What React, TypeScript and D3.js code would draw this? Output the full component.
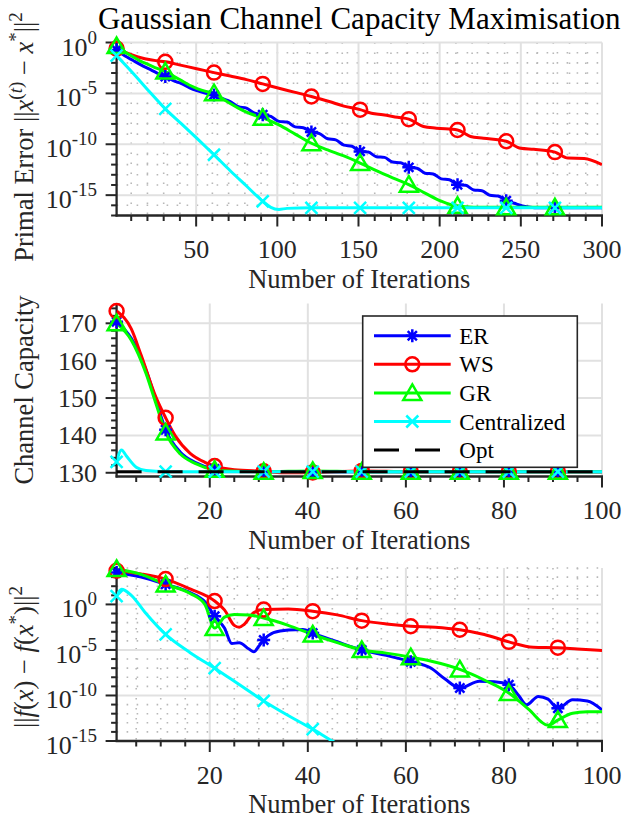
import React from 'react';
import * as d3 from 'd3';

type Pt = [number, number];
type MarkerKind = 'asterisk' | 'circle' | 'triangle' | 'cross';

// panel 1: log10 of primal error ||x(t) - x*||^2, per iteration
const primalER: Pt[] = [
  [1, -0.74], [6, -1.3], [11, -1.75], [16, -2.2], [21, -2.6], [26, -3.0], [31, -3.35], [36, -3.75],
  [41, -4.05], [46, -4.45], [51, -4.75], [56, -5.0], [61, -5.15], [66, -5.5], [71, -5.8], [76, -6.3],
  [81, -6.45], [86, -6.95], [91, -7.1], [96, -7.27], [101, -7.75], [106, -7.82], [111, -8.29],
  [116, -8.37], [121, -8.8], [126, -8.95], [131, -9.46], [136, -9.57], [141, -10.08], [146, -10.19],
  [151, -10.7], [156, -10.76], [161, -11.22], [166, -11.29], [171, -11.75], [176, -11.81],
  [181, -12.27], [186, -12.35], [191, -12.84], [196, -12.92], [201, -13.4], [206, -13.49],
  [211, -13.97], [216, -14.03], [221, -14.49], [226, -14.56], [231, -15.02], [236, -15.08],
  [241, -15.54], [246, -15.8], [251, -16.05], [256, -16.2], [261, -16.25], [271, -16.25],
  [285, -16.25], [300, -16.25],
];
const primalWS: Pt[] = [
  [1, -0.6], [6, -0.95], [11, -1.25], [16, -1.5], [21, -1.68], [26, -1.8], [31, -1.9], [41, -2.25],
  [51, -2.6], [61, -2.96], [71, -3.3], [81, -3.65], [91, -4.07], [101, -4.5], [111, -4.9],
  [121, -5.31], [132, -5.8], [141, -6.25], [151, -6.6], [158, -6.95], [165, -7.1], [174, -7.35],
  [181, -7.53], [190, -8.25], [198, -8.42], [211, -8.6], [219, -9.23], [227, -9.4], [241, -9.7],
  [250, -10.4], [258, -10.5], [271, -10.77], [279, -11.36], [289, -11.4], [300, -12.0],
];
const primalGR: Pt[] = [
  [1, -0.35], [6, -0.9], [11, -1.4], [16, -1.85], [21, -2.2], [26, -2.55], [31, -2.86], [36, -3.3],
  [41, -3.75], [46, -4.2], [51, -4.55], [56, -4.8], [61, -4.98], [66, -5.5], [71, -6.0], [76, -6.45],
  [81, -6.85], [86, -7.15], [91, -7.4], [101, -8.1], [111, -9.0], [121, -9.9], [131, -10.55],
  [141, -11.15], [151, -11.85], [161, -12.6], [171, -13.3], [181, -13.97], [191, -14.8],
  [201, -15.6], [206, -15.9], [211, -16.05], [216, -16.15], [226, -16.2], [241, -16.2],
  [271, -16.2], [300, -16.2],
];
const primalCen: Pt[] = [
  [1, -1.3], [11, -3.0], [21, -4.8], [31, -6.52], [41, -8.0], [51, -9.5], [61, -11.03], [71, -12.6],
  [81, -14.1], [91, -15.6], [96, -16.2], [101, -16.4], [106, -16.3], [121, -16.25], [151, -16.25],
  [181, -16.25], [211, -16.25], [241, -16.25], [271, -16.25], [300, -16.25],
];

// panel 2: channel capacity per iteration
const capER: Pt[] = [
  [1, 170.4], [4, 166], [7, 157.5], [9, 149.5], [11, 141.5], [14, 135.5], [17, 132.8], [21, 131],
  [25, 130.5], [31, 130.3], [41, 130.3], [51, 130.3], [61, 130.3], [71, 130.3], [81, 130.3],
  [91, 130.3], [100, 130.3],
];
const capWS: Pt[] = [
  [1, 173.3], [4, 168.5], [6, 161.5], [9, 150.3], [11, 144.7], [13, 139.8], [16, 135.2], [19, 132.8],
  [21, 131.8], [25, 130.8], [31, 130.4], [36, 130.0], [41, 130.1], [51, 130.5], [61, 130.3],
  [71, 130.3], [81, 130.3], [91, 130.3], [100, 130.3],
];
const capGR: Pt[] = [
  [1, 170.0], [4, 165.5], [7, 156.6], [9, 148.6], [11, 140.8], [14, 135.0], [17, 132.5], [21, 130.8],
  [25, 130.4], [31, 130.3], [41, 130.5], [51, 130.3], [61, 130.3], [71, 130.3], [81, 130.3],
  [91, 130.3], [100, 130.3],
];
const capCen: Pt[] = [
  [1, 132.9], [2, 136.1], [3, 134.5], [5, 131.5], [7, 130.6], [11, 130.3], [21, 130.3], [31, 130.3],
  [41, 130.3], [51, 130.3], [61, 130.3], [71, 130.3], [81, 130.3], [91, 130.3], [100, 130.3],
];
const capOpt = 130.3;

// panel 3: log10 of ||f(x) - f(x*)||^2 per iteration
const gapER: Pt[] = [
  [1, 3.5], [6, 3.0], [11, 2.2], [16, 1.3], [19, 0.3], [21, -1.3], [23, -2.6], [24.5, -4.3],
  [26, -4.2], [28, -4.9], [29, -5.2], [30, -4.6], [31, -3.9], [33, -3.1], [36, -2.8], [39, -2.75],
  [41, -3.15], [46, -4.1], [51, -5.0], [56, -5.6], [61, -6.3], [65, -6.96], [68, -8.2], [71, -9.18],
  [75, -8.44], [78, -8.5], [81, -8.81], [83, -10.0], [84.6, -11.03], [87, -10.1], [89, -10.4],
  [91, -11.4], [94, -10.48], [97, -10.6], [100, -11.59],
];
const gapWS: Pt[] = [
  [1, 3.7], [6, 3.35], [11, 2.78], [16, 1.7], [21, 0.37], [23, -0.6], [25, -2.3], [26, -2.5],
  [27, -2.2], [29, -0.9], [31, -0.56], [36, -0.5], [41, -0.74], [46, -1.15], [51, -1.78],
  [56, -2.15], [61, -2.4], [66, -2.5], [71, -2.78], [76, -3.3], [81, -4.11], [86, -4.7],
  [91, -4.75], [95, -4.9], [100, -5.05],
];
const gapGR: Pt[] = [
  [1, 3.9], [6, 3.3], [11, 2.2], [16, 1.2], [19, 0.0], [21, -2.6], [23, -1.4], [25, -1.1],
  [28, -1.15], [31, -1.5], [36, -2.3], [41, -3.3], [46, -4.2], [51, -5.0], [56, -5.35], [61, -5.8],
  [65, -6.22], [71, -7.14], [76, -8.3], [81, -9.73], [85, -11.5], [89, -13.26], [91, -12.7],
  [94, -11.96], [97, -11.8], [100, -11.78],
];
const gapCen: Pt[] = [
  [1, 0.9], [2, 1.67], [4, 1.0], [7, -1.0], [11, -3.3], [16, -5.3], [21, -7.0], [26, -8.8],
  [31, -10.6], [36, -12.2], [41, -13.7], [45, -15.0], [47, -15.6],
];

const seriesNames = ['ER', 'WS', 'GR', 'Centralized'];
const seriesColors = ['#0000ff', '#ff0000', '#00ff00', '#00ffff'];
const seriesMarkers: MarkerKind[] = ['asterisk', 'circle', 'triangle', 'cross'];

const primalMarkerAt = [1, 31, 61, 91, 121, 151, 181, 211, 241, 271];
const shortMarkerAt = [1, 11, 21, 31, 41, 51, 61, 71, 81, 91];

const primalXTicks = [50, 100, 150, 200, 250, 300];
const primalYTicks = [-15, -10, -5, 0];
const capXTicks = [20, 40, 60, 80, 100];
const capYTicks = [130, 140, 150, 160, 170];
const gapXTicks = [20, 40, 60, 80, 100];
const gapYTicks = [-15, -10, -5, 0];

const X0 = 116.6;
const X1 = 602;
const FONT = "'Liberation Serif', 'Times New Roman', serif";
const INK = '#262626';

const Marker = ({kind, cx, cy, color}: {kind: MarkerKind; cx: number; cy: number; color: string}) => {
  const sw = 2.5;
  if (kind === 'circle')
    return <circle cx={cx} cy={cy} r={7} fill="none" stroke={color} strokeWidth={sw} />;
  if (kind === 'triangle')
    return (
      <polygon
        points={`${cx},${cy - 8.5} ${cx + 9},${cy + 7} ${cx - 9},${cy + 7}`}
        fill="none"
        stroke={color}
        strokeWidth={sw}
      />
    );
  if (kind === 'cross') {
    const a = 6;
    return (
      <path
        d={`M${cx - a},${cy - a}L${cx + a},${cy + a}M${cx - a},${cy + a}L${cx + a},${cy - a}`}
        stroke={color}
        strokeWidth={sw}
      />
    );
  }
  const a = 6.5;
  const b = 4.6;
  return (
    <path
      d={`M${cx - a},${cy}L${cx + a},${cy}M${cx},${cy - a}L${cx},${cy + a}M${cx - b},${cy - b}L${cx + b},${cy + b}M${cx - b},${cy + b}L${cx + b},${cy - b}`}
      stroke={color}
      strokeWidth={sw}
    />
  );
};

interface PanelProps {
  id: string;
  top: number;
  bottom: number;
  xDomain: [number, number];
  xTicks: number[];
  xMinor: number[];
  log: boolean;
  yDomain: [number, number];
  yTicks: number[];
  yMinor: number[];
  minorGrid: boolean;
  series: Pt[][];
  markerAt: number[];
  optValue?: number;
  children?: React.ReactNode;
}

const Panel = ({id, top, bottom, xDomain, xTicks, xMinor, log, yDomain, yTicks, yMinor, minorGrid, series, markerAt, optValue, children}: PanelProps) => {
  const x = d3.scaleLinear().domain(xDomain).range([X0, X1]);
  const yLin = d3.scaleLinear().domain(yDomain).range([bottom, top]);
  const yLog = d3.scaleLog().domain([10 ** yDomain[0], 10 ** yDomain[1]]).range([bottom, top]);
  const y = (v: number) => (log ? yLog(10 ** v) : yLin(v));
  const line = d3
    .line<Pt>()
    .x(d => x(d[0]))
    .y(d => y(d[1]))
    .curve(d3.curveMonotoneX);

  return (
    <g>
      <defs>
        <clipPath id={`clip-${id}`}>
          <rect x={X0} y={top} width={X1 - X0} height={bottom - top} />
        </clipPath>
      </defs>
      {minorGrid &&
        xMinor.map(t => (
          <line key={`mx${t}`} x1={x(t)} x2={x(t)} y1={top} y2={bottom} stroke="#b8b8b8" strokeWidth={1.6} strokeDasharray="1.6 8.4" />
        ))}
      {minorGrid &&
        yMinor.map(v => (
          <line key={`my${v}`} x1={X0} x2={X1} y1={y(v)} y2={y(v)} stroke="#b8b8b8" strokeWidth={1.6} strokeDasharray="1.6 8.4" />
        ))}
      {xTicks.map(t => (
        <line key={`gx${t}`} x1={x(t)} x2={x(t)} y1={top} y2={bottom} stroke="#e1e1e1" strokeWidth={2} />
      ))}
      {yTicks.map(v => (
        <line key={`gy${v}`} x1={X0} x2={X1} y1={y(v)} y2={y(v)} stroke="#e1e1e1" strokeWidth={2} />
      ))}

      {/* axes */}
      <line x1={X0} x2={X0} y1={top} y2={bottom + 1} stroke={INK} strokeWidth={2.3} />
      <line x1={X0 - 1} x2={X1 + 1} y1={bottom} y2={bottom} stroke={INK} strokeWidth={2.3} />
      {xMinor.map(t => (
        <line key={`tx${t}`} x1={x(t)} x2={x(t)} y1={bottom} y2={bottom + 5.5} stroke={INK} strokeWidth={2} />
      ))}
      {xTicks.map(t => (
        <line key={`Tx${t}`} x1={x(t)} x2={x(t)} y1={bottom} y2={bottom + 11} stroke={INK} strokeWidth={2} />
      ))}
      {yMinor.map(v => (
        <line key={`ty${v}`} x1={X0 - 5.5} x2={X0} y1={y(v)} y2={y(v)} stroke={INK} strokeWidth={2} />
      ))}
      {yTicks.map(v => (
        <line key={`Ty${v}`} x1={X0 - 11} x2={X0} y1={y(v)} y2={y(v)} stroke={INK} strokeWidth={2} />
      ))}

      {/* tick labels */}
      {xTicks.map(t => (
        <text key={`lx${t}`} x={x(t)} y={bottom + 42.5} textAnchor="middle" fontSize={26} fill={INK} fontFamily={FONT}>
          {t}
        </text>
      ))}
      {yTicks.map(v =>
        log ? (
          <text key={`ly${v}`} x={97} y={y(v) + 13} textAnchor="end" fontSize={26} fill={INK} fontFamily={FONT}>
            <tspan>10</tspan>
            <tspan fontSize={19} dy={-12}>{v === 0 ? '0' : `-${-v}`}</tspan>
          </text>
        ) : (
          <text key={`ly${v}`} x={97} y={y(v) + 9} textAnchor="end" fontSize={26} fill={INK} fontFamily={FONT}>
            {v}
          </text>
        ),
      )}
      <text x={(X0 + X1) / 2} y={bottom + 72} textAnchor="middle" fontSize={26.5} fill={INK} fontFamily={FONT}>
        Number of Iterations
      </text>

      {/* data */}
      <g clipPath={`url(#clip-${id})`}>
        {series.map((s, i) => (
          <path key={`s${i}`} d={line(s) ?? ''} fill="none" stroke={seriesColors[i]} strokeWidth={3} />
        ))}
      </g>
      {series.map((s, i) =>
        s
          .filter(d => markerAt.includes(d[0]) && d[1] >= yDomain[0] && d[1] <= yDomain[1])
          .map(d => <Marker key={`m${i}-${d[0]}`} kind={seriesMarkers[i]} cx={x(d[0])} cy={y(d[1])} color={seriesColors[i]} />),
      )}
      {optValue !== undefined && (
        <line x1={X0} x2={X1} y1={y(optValue)} y2={y(optValue)} stroke="#000" strokeWidth={3} strokeDasharray="25 16" />
      )}
      {children}
    </g>
  );
};

const Legend = () => {
  const left = 362.7;
  const topY = 316;
  const rowY = (i: number) => 335.7 + i * 28.6;
  return (
    <g fontFamily={FONT}>
      <rect x={left} y={topY} width={214.6} height={151.3} fill="#fff" stroke={INK} strokeWidth={1.6} />
      {seriesNames.map((n, i) => (
        <g key={n}>
          <line x1={374} x2={450.7} y1={rowY(i)} y2={rowY(i)} stroke={seriesColors[i]} strokeWidth={3} />
          <Marker kind={seriesMarkers[i]} cx={412.3} cy={rowY(i)} color={seriesColors[i]} />
          <text x={459.3} y={rowY(i) + 8} fontSize={23} fill="#000">
            {n}
          </text>
        </g>
      ))}
      <line x1={374} x2={450.7} y1={rowY(4)} y2={rowY(4)} stroke="#000" strokeWidth={3} strokeDasharray="25 16" />
      <text x={459.3} y={rowY(4) + 8} fontSize={23} fill="#000">
        Opt
      </text>
    </g>
  );
};

export default function App() {
  return (
    <svg
      width={624}
      height={819}
      viewBox="0 0 624 819"
      style={{display: 'block', position: 'absolute', left: 0, top: 0, background: '#fff'}}
    >
      <rect width={624} height={819} fill="#fff" />
      <text x={359.3} y={29} textAnchor="middle" fontSize={31} fill="#000" fontFamily={FONT}>
        Gaussian Channel Capacity Maximisation
      </text>

      <Panel
        id="primal"
        top={42.5}
        bottom={215.5}
        xDomain={[1, 300]}
        xTicks={primalXTicks}
        xMinor={d3.range(10, 300, 10).filter(t => t % 50 !== 0)}
        log
        yDomain={[-17, 0]}
        yTicks={primalYTicks}
        yMinor={d3.range(-17, 0).filter(v => v % 5 !== 0)}
        minorGrid
        series={[primalER, primalWS, primalGR, primalCen]}
        markerAt={primalMarkerAt}
      />
      <text transform="translate(33,137) rotate(-90)" textAnchor="middle" fontSize={26.5} fill={INK} fontFamily={FONT}>
        <tspan>Primal Error ||</tspan>
        <tspan fontStyle="italic">x</tspan>
        <tspan fontSize={19} dy={-11}>(</tspan>
        <tspan fontSize={19} fontStyle="italic">t</tspan>
        <tspan fontSize={19}>)</tspan>
        <tspan dy={11}>{' \u2212 '}</tspan>
        <tspan fontStyle="italic">x</tspan>
        <tspan fontSize={19} dy={-11}>*</tspan>
        <tspan dy={11}>||</tspan>
        <tspan fontSize={19} dy={-11}>2</tspan>
      </text>

      <Panel
        id="cap"
        top={303.5}
        bottom={476.5}
        xDomain={[1, 100]}
        xTicks={capXTicks}
        xMinor={d3.range(5, 100, 5).filter(t => t % 20 !== 0)}
        log={false}
        yDomain={[129, 175.3]}
        yTicks={capYTicks}
        yMinor={d3.range(130, 176, 2).filter(v => v % 10 !== 0)}
        minorGrid={false}
        series={[capER, capWS, capGR, capCen]}
        markerAt={shortMarkerAt}
        optValue={capOpt}
      >
        <Legend />
      </Panel>
      <text transform="translate(33,390) rotate(-90)" textAnchor="middle" fontSize={26.5} fill={INK} fontFamily={FONT}>
        Channel Capacity
      </text>

      <Panel
        id="gap"
        top={568}
        bottom={741}
        xDomain={[1, 100]}
        xTicks={gapXTicks}
        xMinor={d3.range(5, 100, 5).filter(t => t % 20 !== 0)}
        log
        yDomain={[-15, 4]}
        yTicks={gapYTicks}
        yMinor={d3.range(-14, 5).filter(v => v % 5 !== 0)}
        minorGrid
        series={[gapER, gapWS, gapGR, gapCen]}
        markerAt={shortMarkerAt}
      />
      <text transform="translate(33,657) rotate(-90)" textAnchor="middle" fontSize={26.5} fill={INK} fontFamily={FONT}>
        <tspan>||</tspan>
        <tspan fontStyle="italic">f</tspan>
        <tspan>(</tspan>
        <tspan fontStyle="italic">x</tspan>
        <tspan>)</tspan>
        <tspan>{' \u2212 '}</tspan>
        <tspan fontStyle="italic">f</tspan>
        <tspan>(</tspan>
        <tspan fontStyle="italic">x</tspan>
        <tspan fontSize={19} dy={-11}>*</tspan>
        <tspan dy={11}>)||</tspan>
        <tspan fontSize={19} dy={-11}>2</tspan>
      </text>
    </svg>
  );
}
